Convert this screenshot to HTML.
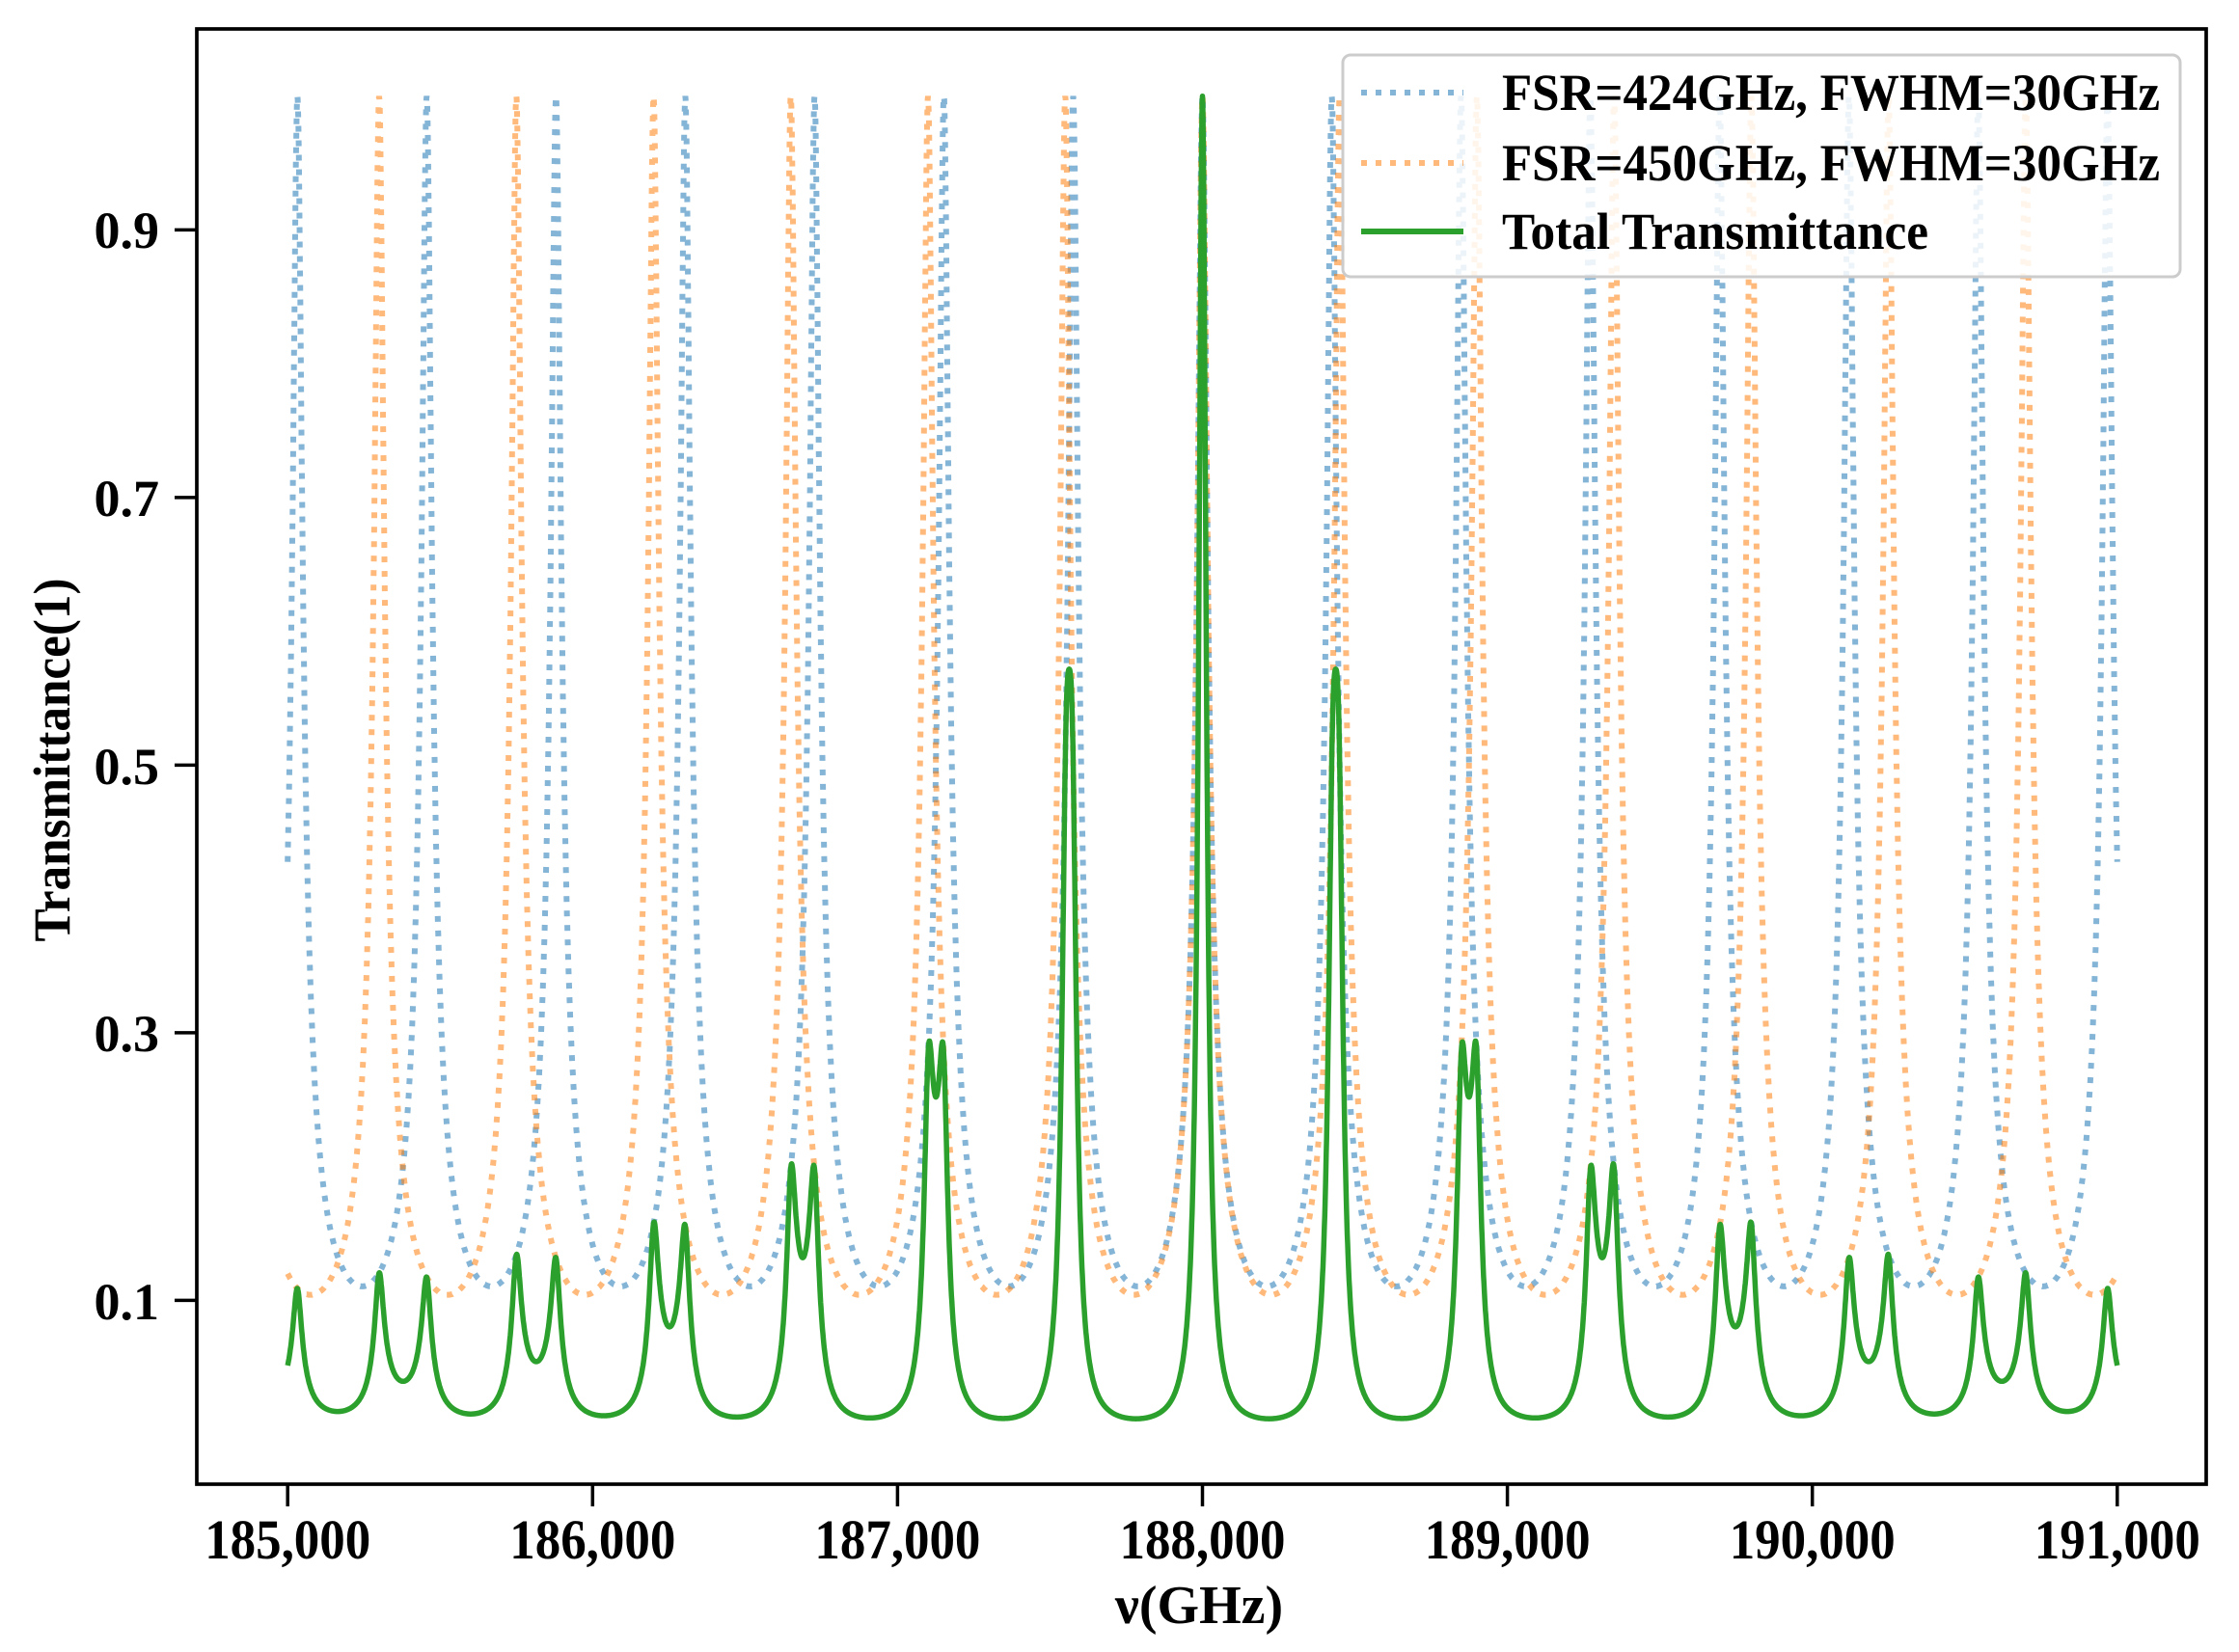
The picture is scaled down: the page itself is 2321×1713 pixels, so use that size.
<!DOCTYPE html>
<html><head><meta charset="utf-8"><style>
html,body{margin:0;padding:0;background:#fff;}
svg{display:block;}
text{font-family:"Liberation Serif",serif;font-weight:bold;fill:#000;}
</style></head><body>
<svg id="s" width="2321" height="1713" viewBox="0 0 2321 1713" xmlns="http://www.w3.org/2000/svg">
<rect width="2321" height="1713" fill="#fff"/>
<defs><clipPath id="c"><rect x="204" y="30" width="2083" height="1510"/></clipPath></defs>
<g clip-path="url(#c)">
<path id="p1" fill="none" stroke="#1f77b4" stroke-opacity="0.55" stroke-width="6" stroke-dasharray="6 9"/>
<path id="p2" fill="none" stroke="#ff7f0e" stroke-opacity="0.55" stroke-width="6" stroke-dasharray="6 9"/>
<path id="p3" fill="none" stroke="#2ca02c" stroke-width="5.5" stroke-linejoin="round"/>
</g>
<rect x="204" y="30" width="2083" height="1509" fill="none" stroke="#000" stroke-width="3.7"/>
<g id="ticks" stroke="#000" stroke-width="3.5"></g>
<g font-size="54" text-anchor="end">
<text x="165" y="257">0.9</text>
<text x="165" y="535">0.7</text>
<text x="165" y="813">0.5</text>
<text x="165" y="1090">0.3</text>
<text x="165" y="1368">0.1</text>
</g>
<g id="xl" font-size="58" text-anchor="middle"></g>
<text x="1243" y="1683" font-size="56" text-anchor="middle">ν(GHz)</text>
<text transform="translate(72,788) rotate(-90)" font-size="54" text-anchor="middle" textLength="377" lengthAdjust="spacingAndGlyphs">Transmittance(1)</text>
<rect x="1392" y="57" width="868" height="230" rx="8" fill="#fff" fill-opacity="0.85" stroke="#ccc" stroke-width="3"/>
<line x1="1411" y1="96" x2="1517" y2="96" stroke="#1f77b4" stroke-opacity="0.55" stroke-width="6" stroke-dasharray="6 9"/>
<line x1="1411" y1="169" x2="1517" y2="169" stroke="#ff7f0e" stroke-opacity="0.55" stroke-width="6" stroke-dasharray="6 9"/>
<line x1="1411" y1="240" x2="1517" y2="240" stroke="#2ca02c" stroke-width="6"/>
<g font-size="54">
<text x="1557" y="114" textLength="682" lengthAdjust="spacingAndGlyphs">FSR=424GHz, FWHM=30GHz</text>
<text x="1557" y="187" textLength="682" lengthAdjust="spacingAndGlyphs">FSR=450GHz, FWHM=30GHz</text>
<text x="1557" y="258" textLength="442" lengthAdjust="spacingAndGlyphs">Total Transmittance</text>
</g>
</svg>
<script>
(function(){
function X(v){return 298.2+(v-185000)*0.3161;}
function Y(t){return 1348.4-(t-0.1)*1387.5;}
function D(v,f){var F=Math.pow(2*f/(Math.PI*30),2);var s=Math.sin(Math.PI*(v-188000)/f);return 1/Math.sqrt(1+F*s*s);}
var a=[],b=[],c=[];
for(var v=185000;v<=191000;v+=1){
 var d1=D(v,424),d2=D(v,450);
 var x=X(v).toFixed(1);
 var pre=(v===185000)?'M':'L';
 a.push(pre+x+','+Y(d1).toFixed(1));
 b.push(pre+x+','+Y(d2).toFixed(1));
 c.push(pre+x+','+Y(d1*d2).toFixed(1));
}
document.getElementById('p1').setAttribute('d',a.join(''));
document.getElementById('p2').setAttribute('d',b.join(''));
document.getElementById('p3').setAttribute('d',c.join(''));
var NS='http://www.w3.org/2000/svg',tk=document.getElementById('ticks'),xl=document.getElementById('xl');
for(var k=0;k<=6;k++){
 var x=X(185000+k*1000);
 var l=document.createElementNS(NS,'line');l.setAttribute('x1',x);l.setAttribute('x2',x);l.setAttribute('y1',1539);l.setAttribute('y2',1562);tk.appendChild(l);
 var t=document.createElementNS(NS,'text');t.setAttribute('x',x);t.setAttribute('y',1616);t.setAttribute('textLength','172');t.setAttribute('lengthAdjust','spacingAndGlyphs');t.textContent=(185+k)+',000';xl.appendChild(t);
}
[0.1,0.3,0.5,0.7,0.9].forEach(function(t){
 var y=Y(t);var l=document.createElementNS(NS,'line');l.setAttribute('x1',181);l.setAttribute('x2',204);l.setAttribute('y1',y);l.setAttribute('y2',y);tk.appendChild(l);
});
})();
</script>
</body></html>
